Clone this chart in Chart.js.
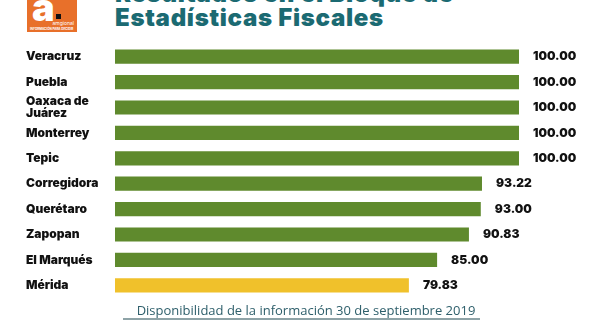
<!DOCTYPE html>
<html>
<head>
<meta charset="utf-8">
<script src="https://cdn.jsdelivr.net/npm/chart.js@4/dist/chart.umd.min.js"></script>
<style>
  html, body { margin: 0; padding: 0; background: #fff; }
  body { width: 612px; height: 330px; position: relative; overflow: hidden; font-family: Inter, "Open Sans", sans-serif; }
  .logo { position: absolute; left: 27px; top: -8px; width: 50px; height: 40px; background: #e8702a; }
  .logo .a { position: absolute; left: 5px; top: -8px; color: #fff; font: 900 38px Inter, sans-serif; }
  .logo .dot { position: absolute; left: 29px; top: 22px; width: 5px; height: 5px; background: #111; }
  .logo .brand { position: absolute; right: 3px; top: 28px; color: #fff; font: 400 5px Inter, sans-serif; }
  .logo .tag { position: absolute; left: 3px; top: 35px; color: #fff; font: 700 3px Inter, sans-serif; white-space: nowrap; }
  .title { position: absolute; left: 115px; top: -18px; color: #1b6a72; font: 900 24px/24px Inter, sans-serif; letter-spacing: 0.7px; white-space: nowrap; }
  .chart-box { position: absolute; left: 0; top: 38px; width: 612px; height: 266px; }
  .note { position: absolute; left: 0; width: 612px; top: 301px; text-align: center; color: #2e5f6b; font: 400 13px "Open Sans", sans-serif; }
  .rule { position: absolute; left: 123px; width: 357px; top: 318px; height: 2px; background: #8ea3a7; }
</style>
</head>
<body>
<div class="logo"><span class="a">a</span><span class="dot"></span><span class="brand">amgional</span><span class="tag">INFORMACIÓN PARA DECIDIR</span></div>
<div class="title">Resultados en el Bloque de<br>Estadísticas Fiscales</div>
<div class="chart-box"><canvas id="chart"></canvas></div>
<div class="note">Disponibilidad de la información 30 de septiembre 2019</div>
<div class="rule"></div>
<script>
// municipios y calificación
const cities = ['Veracruz', 'Puebla', ['Oaxaca de', 'Juárez'], 'Monterrey', 'Tepic',
  'Corregidora', 'Querétaro', 'Zapopan', 'El Marqués', 'Mérida'];
const scores = [100.00, 100.00, 100.00, 100.00, 100.00, 93.22, 93.00, 90.83, 85.00, 79.83];
const highlight = 'Mérida';

const GREEN = '#5f8a2d';
const YELLOW = '#f0c12b';
const barColors = cities.map(c => c === highlight ? YELLOW : GREEN);

// numbers at the end of each bar
const valueLabels = {
  id: 'valueLabels',
  afterDatasetsDraw(chart) {
    const { ctx } = chart;
    const meta = chart.getDatasetMeta(0);
    ctx.save();
    ctx.font = '900 12px Inter, sans-serif';
    ctx.fillStyle = '#111';
    ctx.textBaseline = 'middle';
    meta.data.forEach((bar, i) => {
      ctx.fillText(scores[i].toFixed(2), bar.x + 14, bar.y);
    });
    ctx.restore();
  }
};

new Chart(document.getElementById('chart'), {
  type: 'bar',
  data: {
    labels: cities,
    datasets: [{ data: scores, backgroundColor: barColors, borderWidth: 0,
      categoryPercentage: 1, barPercentage: 0.56 }]
  },
  options: {
    indexAxis: 'y',
    responsive: true,
    maintainAspectRatio: false,
    animation: false,
    layout: { padding: { left: 26, right: 93, top: 0, bottom: 0 } },
    plugins: { legend: { display: false }, tooltip: { enabled: false } },
    scales: {
      x: { display: false, min: 26, max: 100 },
      y: {
        grid: { display: false },
        border: { display: false },
        afterFit(scale) { scale.width = 89; },
        ticks: {
          autoSkip: false,
          crossAlign: 'far',
          padding: 0,
          color: '#111',
          font: { family: 'Inter', weight: '900', size: 12, lineHeight: 1.0 }
        }
      }
    }
  },
  plugins: [valueLabels]
});
</script>
</body>
</html>
